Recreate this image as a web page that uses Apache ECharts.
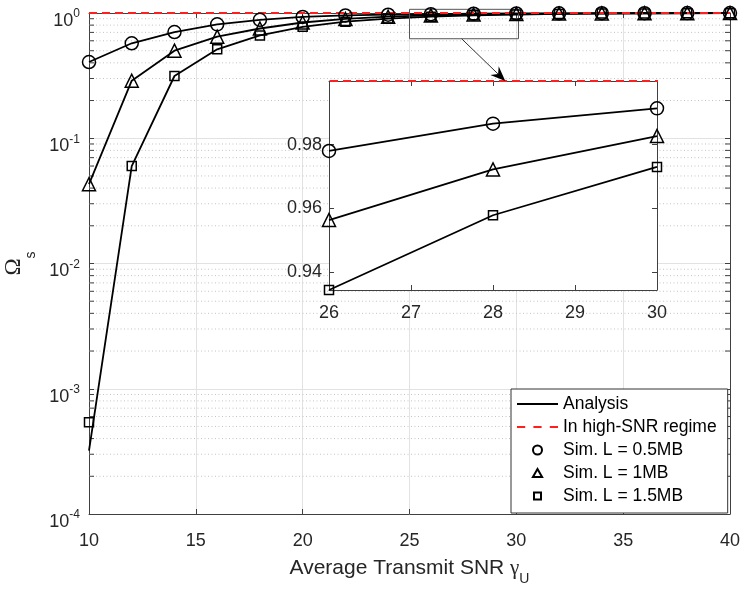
<!DOCTYPE html>
<html>
<head>
<meta charset="utf-8">
<script src="https://cdn.jsdelivr.net/npm/echarts@6/dist/echarts.min.js"></script>
<style>
  html, body { margin: 0; padding: 0; background: #fff; }
  #chart { width: 744px; height: 590px; }
</style>
</head>
<body>
<div id="chart"></div>
<script>
// Secrecy probability Omega_s versus average transmit SNR, with a zoomed inset.
const FONT = '"Liberation Sans", Arial, Helvetica, sans-serif';
const SERIF = '"Liberation Serif", "DejaVu Serif", serif';
const INK = '#262626';
const AXIS = '#404040';

const snr = [10, 12, 14, 16, 18, 20, 22, 24, 26, 28, 30, 32, 34, 36, 38, 40];

// Analytical curves
const analysisL05 = [0.406, 0.573, 0.705, 0.812, 0.882, 0.930, 0.956, 0.969, 0.978, 0.9866, 0.9914, 0.9944, 0.9963, 0.9976, 0.9984, 0.9989];
const analysisL1  = [0.043, 0.288, 0.500, 0.647, 0.752, 0.840, 0.896, 0.934, 0.9563, 0.9722, 0.9827, 0.9890, 0.9930, 0.9955, 0.9971, 0.9981];
const analysisL15 = [3.2e-4, 0.060, 0.314, 0.513, 0.662, 0.775, 0.852, 0.903, 0.9343, 0.9578, 0.9730, 0.9828, 0.9890, 0.9930, 0.9955, 0.9971];

// Monte-Carlo simulation points
const simL05 = [0.406, 0.573, 0.705, 0.812, 0.882, 0.930, 0.956, 0.969, 0.978, 0.9866, 0.9914, 0.9944, 0.9963, 0.9976, 0.9984, 0.9989];
const simL1  = [0.043, 0.288, 0.500, 0.647, 0.752, 0.840, 0.896, 0.934, 0.9563, 0.9722, 0.9827, 0.9890, 0.9930, 0.9955, 0.9971, 0.9981];
const simL15 = [5.4e-4, 0.060, 0.314, 0.513, 0.662, 0.775, 0.852, 0.903, 0.9343, 0.9578, 0.9730, 0.9828, 0.9890, 0.9930, 0.9955, 0.9971];

// High-SNR asymptote
const highSnrX = [10, 40];
const highSnrY = [1, 1];

// Log-axis minor grid
const minorMantissas = [2, 3, 4, 5, 6, 7, 8, 9];
const decades = [1e-4, 1e-3, 1e-2, 1e-1];

// Inset ranges and the annotation that links it to the main axes
const insetRangeX = [26, 30];
const insetRangeY = [0.9343, 1.0];
const zoomBoxX = [25, 30.1];
const zoomBoxY = [0.623, 1.07];
const arrowFrom = [27.44, 0.623];
const arrowTo = [28.15, 1.0];

const legendNames = ['Analysis', 'In high-SNR regime', 'Sim. L = 0.5MB', 'Sim. L = 1MB', 'Sim. L = 1.5MB'];

const minorValues = decades.flatMap(d => minorMantissas.map(m => +(m * d).toPrecision(3)));

function pairs(xs, ys, lo, hi) {
  const out = [];
  xs.forEach((x, i) => { if (lo === undefined || (x >= lo && x <= hi)) out.push([x, ys[i]]); });
  return out;
}

const markerDefs = [
  { name: legendNames[2], data: simL05, symbol: 'circle', size: 13 },
  { name: legendNames[3], data: simL1, symbol: 'triangle', size: 13 },
  { name: legendNames[4], data: simL15, symbol: 'rect', size: 9 }
];
const analysisSets = [analysisL05, analysisL1, analysisL15];

function buildSeries(xi, yi, lo, hi, zBase) {
  const list = [];
  analysisSets.forEach(ys => list.push({
    type: 'line', name: legendNames[0], xAxisIndex: xi, yAxisIndex: yi,
    data: pairs(snr, ys, lo, hi), symbol: 'none', z: zBase,
    lineStyle: { color: '#000', width: 1.8 }, itemStyle: { color: '#000' },
    animation: false, silent: true
  }));
  list.push({
    type: 'line', name: legendNames[1], xAxisIndex: xi, yAxisIndex: yi,
    data: pairs(highSnrX, highSnrY), symbol: 'none', z: zBase + 1,
    lineStyle: { color: '#ff1f1f', width: 2, type: [8, 5] }, itemStyle: { color: '#ff1f1f' },
    animation: false, silent: true
  });
  markerDefs.forEach(m => list.push({
    type: 'scatter', name: m.name, xAxisIndex: xi, yAxisIndex: yi,
    data: pairs(snr, m.data, lo, hi), symbol: m.symbol, symbolSize: m.size, z: zBase + 2,
    itemStyle: { color: 'rgba(0,0,0,0)', borderColor: '#000', borderWidth: 1.5, opacity: 1 },
    animation: false, silent: true
  }));
  return list;
}

const series = [];

// Dotted minor grid with inward minor ticks on both vertical edges
series.push({
  type: 'custom', xAxisIndex: 0, yAxisIndex: 0, silent: true, animation: false, z: 1,
  data: minorValues.map(v => [10, v]),
  renderItem: (params, api) => {
    const v = api.value(1);
    const a = api.coord([10, v]);
    const b = api.coord([40, v]);
    const tick = { stroke: AXIS, lineWidth: 1 };
    return {
      type: 'group',
      children: [
        { type: 'line', shape: { x1: a[0], y1: a[1], x2: b[0], y2: b[1] },
          style: { stroke: '#c4c4c4', lineWidth: 1, lineDash: [1, 2.5] } },
        { type: 'line', shape: { x1: a[0], y1: a[1], x2: a[0] + 5, y2: a[1] }, style: tick },
        { type: 'line', shape: { x1: b[0], y1: b[1], x2: b[0] - 5, y2: b[1] }, style: tick }
      ]
    };
  }
});

series.push(...buildSeries(0, 0, undefined, undefined, 2));

// Outline of the zoomed region on the main axes
series.push({
  type: 'custom', xAxisIndex: 0, yAxisIndex: 0, silent: true, animation: false, z: 3,
  data: [[zoomBoxX[0], zoomBoxY[0]]],
  renderItem: (params, api) => {
    const p0 = api.coord([zoomBoxX[0], zoomBoxY[1]]);
    const p1 = api.coord([zoomBoxX[1], zoomBoxY[0]]);
    return { type: 'rect', shape: { x: p0[0], y: p0[1], width: p1[0] - p0[0], height: p1[1] - p0[1] },
      style: { fill: null, stroke: '#555', lineWidth: 1 } };
  }
});

// White backing of the inset axes
series.push({
  type: 'custom', xAxisIndex: 2, yAxisIndex: 2, silent: true, animation: false, z: 4,
  data: [[insetRangeX[0], insetRangeY[0]]],
  renderItem: (params, api) => {
    const p0 = api.coord([insetRangeX[0], insetRangeY[1]]);
    const p1 = api.coord([insetRangeX[1], insetRangeY[0]]);
    return { type: 'rect', shape: { x: p0[0], y: p0[1], width: p1[0] - p0[0], height: p1[1] - p0[1] },
      style: { fill: '#fff', stroke: null } };
  }
});

series.push(...buildSeries(2, 2, insetRangeX[0], insetRangeX[1], 8));

const tickLabel = { fontFamily: FONT, fontSize: 18, color: INK };
const axisLineStyle = { show: true, lineStyle: { color: AXIS, width: 1 } };
const tickIn = { show: true, inside: true, length: 5, lineStyle: { color: AXIS } };

const powLabel = v => '{b|10}{s|' + Math.round(Math.log10(v)) + '}';

const option = {
  backgroundColor: '#fff',
  animation: false,
  grid: [
    { left: 89, right: 14, top: 13, bottom: 76, outerBoundsMode: 'none', containLabel: false },
    { left: 329, width: 328, top: 81, height: 209, outerBoundsMode: 'none', containLabel: false }
  ],
  xAxis: [
    { type: 'value', gridIndex: 0, min: 10, max: 40, interval: 5, position: 'bottom',
      axisLine: axisLineStyle, axisTick: tickIn,
      axisLabel: Object.assign({ margin: 18 }, tickLabel),
      splitLine: { show: true, lineStyle: { color: '#e2e2e2', width: 1 } },
      name: '{t|Average Transmit SNR }{g|γ}{u|U}', nameLocation: 'middle', nameGap: 44,
      nameTextStyle: { rich: {
        t: { fontFamily: FONT, fontSize: 21, color: INK, lineHeight: 28, verticalAlign: 'top' },
        g: { fontFamily: SERIF, fontSize: 21, color: INK, lineHeight: 28, verticalAlign: 'top' },
        u: { fontFamily: FONT, fontSize: 14, color: INK, lineHeight: 14, verticalAlign: 'bottom' }
      } } },
    { type: 'value', gridIndex: 0, min: 10, max: 40, interval: 5, position: 'top',
      axisLine: axisLineStyle, axisTick: tickIn, axisLabel: { show: false }, splitLine: { show: false } },
    { type: 'value', gridIndex: 1, min: insetRangeX[0], max: insetRangeX[1], interval: 1, position: 'bottom', z: 6,
      axisLine: axisLineStyle, axisTick: tickIn,
      axisLabel: Object.assign({ margin: 14 }, tickLabel), splitLine: { show: false } },
    { type: 'value', gridIndex: 1, min: insetRangeX[0], max: insetRangeX[1], interval: 1, position: 'top', z: 6,
      axisLine: axisLineStyle, axisTick: tickIn, axisLabel: { show: false }, splitLine: { show: false } }
  ],
  yAxis: [
    { type: 'log', logBase: 10, gridIndex: 0, min: 1e-4, max: 1, position: 'left',
      axisLine: axisLineStyle, axisTick: tickIn,
      axisLabel: { formatter: powLabel, margin: 9, padding: [16, 0, 0, 0], rich: {
        b: { fontFamily: FONT, fontSize: 18, color: INK, lineHeight: 26 },
        s: { fontFamily: FONT, fontSize: 12, color: INK, lineHeight: 12, verticalAlign: 'top' }
      } },
      splitLine: { show: true, lineStyle: { color: '#e2e2e2', width: 1 } },
      name: '{o|Ω}{s|s}', nameLocation: 'middle', nameRotate: 90, nameGap: 51,
      nameTextStyle: { rich: {
        o: { fontFamily: SERIF, fontSize: 23, color: INK, lineHeight: 36, verticalAlign: 'top' },
        s: { fontFamily: FONT, fontSize: 14, color: INK, lineHeight: 14, verticalAlign: 'bottom' }
      } } },
    { type: 'log', logBase: 10, gridIndex: 0, min: 1e-4, max: 1, position: 'right',
      axisLine: axisLineStyle, axisTick: tickIn, axisLabel: { show: false }, splitLine: { show: false } },
    { type: 'value', gridIndex: 1, min: insetRangeY[0], max: insetRangeY[1], position: 'left', z: 6,
      splitNumber: 3, minInterval: 0.02, maxInterval: 0.02,
      axisLine: axisLineStyle, axisTick: tickIn,
      axisLabel: Object.assign({ margin: 7, showMinLabel: false, showMaxLabel: false,
        formatter: v => v.toFixed(2) }, tickLabel),
      splitLine: { show: false } },
    { type: 'value', gridIndex: 1, min: insetRangeY[0], max: insetRangeY[1], position: 'right', z: 6,
      splitNumber: 3, minInterval: 0.02, maxInterval: 0.02,
      axisLine: axisLineStyle, axisTick: tickIn, axisLabel: { show: false }, splitLine: { show: false } }
  ],
  legend: {
    orient: 'vertical', left: 511, top: 389,
    itemWidth: 41, itemHeight: 9, itemGap: 5,
    padding: [6, 11, 8, 5],
    backgroundColor: '#fff', borderColor: '#333', borderWidth: 1,
    textStyle: { fontFamily: FONT, fontSize: 17.5, color: '#000', lineHeight: 18 },
    selectedMode: false,
    data: [
      { name: legendNames[0], icon: 'path://M0,0H40V2H0Z' },
      { name: legendNames[1], icon: 'path://M0,0H8V2H0Z M16,0H24V2H16Z M32,0H40V2H32Z' },
      { name: legendNames[2] },
      // icons padded out to the full item box so the marker keeps its shape
      { name: legendNames[3], icon: 'path://M0,0 M41,10 M20.5,0.6 L25.6,9.4 L15.4,9.4 Z' },
      { name: legendNames[4], icon: 'path://M0,0 M41,9 M17,1 H24 V8 H17 Z' }
    ]
  },
  series: series
};

const chart = echarts.init(document.getElementById('chart'), null, { renderer: 'canvas' });
chart.setOption(option);

// Arrow from the outlined region down to the inset
const s = chart.convertToPixel({ xAxisIndex: 0, yAxisIndex: 0 }, arrowFrom);
const e = chart.convertToPixel({ xAxisIndex: 2, yAxisIndex: 2 }, arrowTo);
const ang = Math.atan2(e[1] - s[1], e[0] - s[0]);
const headLen = 15, headHalf = 6, notch = 5;
const ux = Math.cos(ang), uy = Math.sin(ang);
const bx = e[0] - ux * headLen, by = e[1] - uy * headLen;
const nx = e[0] - ux * (headLen - notch), ny = e[1] - uy * (headLen - notch);
chart.setOption({
  graphic: [
    { type: 'line', z: 20, silent: true,
      shape: { x1: s[0], y1: s[1], x2: nx, y2: ny }, style: { stroke: '#333', lineWidth: 1 } },
    { type: 'polygon', z: 20, silent: true,
      shape: { points: [[e[0], e[1]], [bx - uy * headHalf, by + ux * headHalf], [nx, ny], [bx + uy * headHalf, by - ux * headHalf]] },
      style: { fill: '#000' } }
  ]
});
</script>
</body>
</html>
